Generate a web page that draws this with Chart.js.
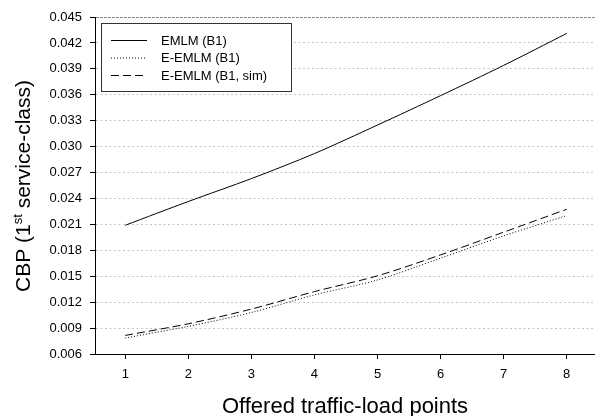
<!DOCTYPE html>
<html>
<head>
<meta charset="utf-8">
<script src="https://cdn.jsdelivr.net/npm/chart.js@4.4.1/dist/chart.umd.min.js"></script>
<style>
  html, body { margin: 0; padding: 0; background: #fff; overflow: hidden; }
  #wrap { width: 600px; height: 416px; }
</style>
</head>
<body>
<div id="wrap"><canvas id="myChart"></canvas></div>
<script>
// Offered traffic-load points (x axis)
const loadPoints = [1, 2, 3, 4, 5, 6, 7, 8];

// CBP values
const emlmB1 = [0.0209, 0.02365, 0.0263, 0.0292, 0.0325, 0.0359, 0.0394, 0.0431];
const eEmlmB1 = [0.00785, 0.0092, 0.0108, 0.01284, 0.01457, 0.01709, 0.01967, 0.02202];
const eEmlmB1Sim = [0.00815, 0.0095, 0.0112, 0.01322, 0.01505, 0.01747, 0.0201, 0.02275];

// Tick labels
const yTickValues = [0.006, 0.009, 0.012, 0.015, 0.018, 0.021, 0.024, 0.027, 0.030, 0.033, 0.036, 0.039, 0.042, 0.045];
const seriesNames = ['EMLM (B1)', 'E-EMLM (B1)', 'E-EMLM (B1, sim)'];

const FONT = '"Liberation Sans", Arial, sans-serif';

const toPoints = ys => loadPoints.map((x, i) => ({ x: x, y: ys[i] }));

// Draws the boxed legend and the axis titles (y title has a superscript)
const decorations = {
  id: 'decorations',
  afterDraw(chart) {
    const ctx = chart.ctx;
    ctx.save();

    // legend box
    ctx.fillStyle = '#fff';
    ctx.fillRect(101, 23, 190, 68);
    ctx.strokeStyle = '#333';
    ctx.lineWidth = 1;
    ctx.strokeRect(101.5, 23.5, 190, 68);

    const rows = [40, 57.5, 75];
    chart.data.datasets.forEach((ds, i) => {
      ctx.beginPath();
      ctx.setLineDash(ds.borderDash || []);
      ctx.strokeStyle = '#000';
      ctx.lineWidth = 1;
      ctx.moveTo(111, rows[i] + 0.5);
      ctx.lineTo(147, rows[i] + 0.5);
      ctx.stroke();
      ctx.setLineDash([]);
      ctx.fillStyle = '#000';
      ctx.font = '13px ' + FONT;
      ctx.textBaseline = 'middle';
      ctx.textAlign = 'left';
      ctx.fillText(ds.label, 161, rows[i] + 1);
    });

    // x axis title
    ctx.font = '22px ' + FONT;
    ctx.textAlign = 'center';
    ctx.textBaseline = 'alphabetic';
    ctx.fillText('Offered traffic-load points', 345, 413);

    // y axis title with superscript
    const big = '21px ' + FONT, small = '13px ' + FONT;
    const p1 = 'CBP (1', sup = 'st', p2 = ' service-class)';
    ctx.font = big;
    const w1 = ctx.measureText(p1).width, w3 = ctx.measureText(p2).width;
    ctx.font = small;
    const w2 = ctx.measureText(sup).width;
    const total = w1 + w2 + w3;
    ctx.translate(30, 186);
    ctx.rotate(-Math.PI / 2);
    ctx.textAlign = 'left';
    let x = -total / 2;
    ctx.font = big;
    ctx.fillText(p1, x, 0);
    x += w1;
    ctx.font = small;
    ctx.fillText(sup, x, -8);
    x += w2;
    ctx.font = big;
    ctx.fillText(p2, x, 0);

    ctx.restore();
  }
};

const ctx = document.getElementById('myChart').getContext('2d');

new Chart(ctx, {
  type: 'line',
  data: {
    datasets: [
      {
        label: seriesNames[0],
        data: toPoints(emlmB1),
        borderColor: '#000',
        borderWidth: 1,
        borderDash: [],
        pointRadius: 0,
        tension: 0.3
      },
      {
        label: seriesNames[1],
        data: toPoints(eEmlmB1),
        borderColor: '#000',
        borderWidth: 1,
        borderDash: [1, 2],
        pointRadius: 0,
        tension: 0.3
      },
      {
        label: seriesNames[2],
        data: toPoints(eEmlmB1Sim),
        borderColor: '#000',
        borderWidth: 1,
        borderDash: [8, 4],
        pointRadius: 0,
        tension: 0.3
      }
    ]
  },
  options: {
    responsive: true,
    maintainAspectRatio: false,
    animation: false,
    layout: { padding: { top: 17, left: 0, right: 3, bottom: 0 } },
    plugins: {
      legend: { display: false },
      tooltip: { enabled: false }
    },
    scales: {
      x: {
        type: 'linear',
        min: 0.52,
        max: 8.48,
        afterBuildTicks: s => { s.ticks = loadPoints.map(v => ({ value: v })); },
        afterFit: s => { s.height = 62; },
        grid: {
          drawOnChartArea: false,
          drawTicks: true,
          tickLength: 5,
          tickColor: '#000'
        },
        border: { display: true, color: '#000', width: 1 },
        ticks: {
          color: '#000',
          padding: 8,
          font: { family: FONT, size: 13 },
          callback: v => String(v)
        }
      },
      y: {
        type: 'linear',
        min: 0.006,
        max: 0.045,
        afterBuildTicks: s => { s.ticks = yTickValues.map(v => ({ value: v })); },
        afterFit: s => { s.width = 95; },
        grid: {
          drawOnChartArea: true,
          drawTicks: true,
          tickLength: 5,
          tickColor: '#000',
          color: c => {
            if (!c.tick) return '#c4c4c4';
            if (Math.abs(c.tick.value - 0.006) < 1e-6) return 'rgba(0,0,0,0)';
            if (Math.abs(c.tick.value - 0.045) < 1e-6) return '#8a8a8a';
            return '#c4c4c4';
          }
        },
        border: {
          display: true,
          color: '#000',
          width: 1,
          dash: c => {
            if (c.tick && Math.abs(c.tick.value - 0.045) < 1e-6) return [3, 1];
            return c.tick ? [2, 2.5] : [];
          }
        },
        ticks: {
          color: '#000',
          padding: 8,
          font: { family: FONT, size: 13 },
          callback: v => Number(v).toFixed(3)
        }
      }
    }
  },
  plugins: [decorations]
});
</script>
</body>
</html>
